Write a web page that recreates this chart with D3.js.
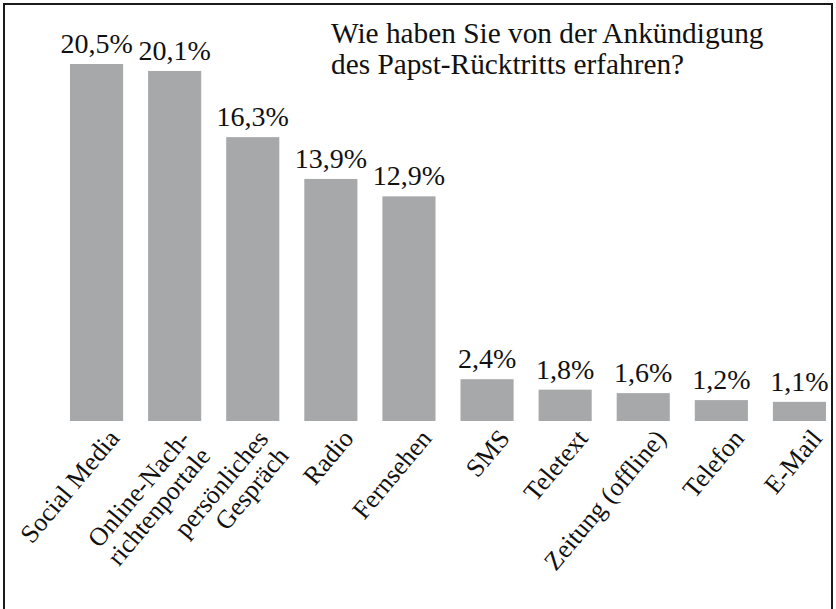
<!DOCTYPE html>
<html>
<head>
<meta charset="utf-8">
<script src="https://cdn.jsdelivr.net/npm/d3@7"></script>
<style>
  html, body { margin: 0; padding: 0; background: #fff; }
  svg { display: block; }
</style>
</head>
<body>
<svg id="chart" width="836" height="609"></svg>
<script>
// ---- data ----
const categories = [
  "Social Media",
  "Online-Nach-\nrichtenportale",
  "persönliches\nGespräch",
  "Radio",
  "Fernsehen",
  "SMS",
  "Teletext",
  "Zeitung (offline)",
  "Telefon",
  "E-Mail"
];
const values = [20.5, 20.1, 16.3, 13.9, 12.9, 2.4, 1.8, 1.6, 1.2, 1.1];
const titleLines = ["Wie haben Sie von der Ankündigung", "des Papst-Rücktritts erfahren?"];

// ---- layout ----
const W = 836, H = 609;
const baseY = 421, topY = 64;
const FONT = "Liberation Serif, DejaVu Serif, serif";
const INK = "#111";
const svg = d3.select("#chart");

const locale = d3.formatLocale({decimal: ",", thousands: ".", grouping: [3], currency: ["", " €"]});
const fmt = d => locale.format(".1f")(d) + "%";

const x = d3.scaleBand().domain(categories).range([70, 826]).paddingInner(0.32).paddingOuter(0);
const y = d3.scaleLinear().domain([0, d3.max(values)]).range([baseY, topY]);

// frame
svg.append("rect")
  .attr("x", 4).attr("y", 4).attr("width", 828).attr("height", H + 10)
  .attr("fill", "none").attr("stroke", "#1a1a1a").attr("stroke-width", 2);

// bars
svg.append("g").selectAll("rect")
  .data(values)
  .join("rect")
  .attr("x", (d, i) => x(categories[i]))
  .attr("y", d => y(d))
  .attr("width", x.bandwidth())
  .attr("height", d => y(0) - y(d))
  .attr("fill", "#a7a8aa");

// value labels
svg.append("g").selectAll("text")
  .data(values)
  .join("text")
  .attr("x", (d, i) => x(categories[i]) + x.bandwidth() / 2)
  .attr("y", d => y(d) - 11)
  .attr("text-anchor", "middle")
  .attr("font-family", FONT)
  .attr("font-size", 28)
  .attr("fill", INK)
  .text(d => fmt(d));

// category axis (rotated labels)
const axis = svg.append("g")
  .attr("transform", `translate(0,${baseY})`)
  .call(d3.axisBottom(x).tickSize(0).tickFormat(""));
axis.attr("font-family", FONT);
axis.select(".domain").remove();
axis.selectAll(".tick text").remove();
axis.selectAll(".tick").each(function(d) {
  const lines = d.split("\n");
  const n = lines.length;
  const t = d3.select(this).append("text")
    .attr("text-anchor", "end")
    .attr("font-family", FONT)
    .attr("font-size", 26)
    .attr("fill", INK)
    .attr("transform", "translate(24,18) rotate(-50)");
  lines.forEach((line, k) => {
    t.append("tspan")
      .attr("x", -(n - 1) * 5)
      .attr("dy", k === 0 ? `${-(n - 1) * 0.2}em` : "1.02em")
      .text(line);
  });
});

// title
const title = svg.append("text")
  .attr("x", 331).attr("y", 43)
  .attr("font-family", FONT)
  .attr("font-size", 29.3)
  .attr("fill", INK);
titleLines.forEach((line, k) => {
  title.append("tspan").attr("x", 331).attr("dy", k === 0 ? 0 : 31).text(line);
});
</script>
</body>
</html>
